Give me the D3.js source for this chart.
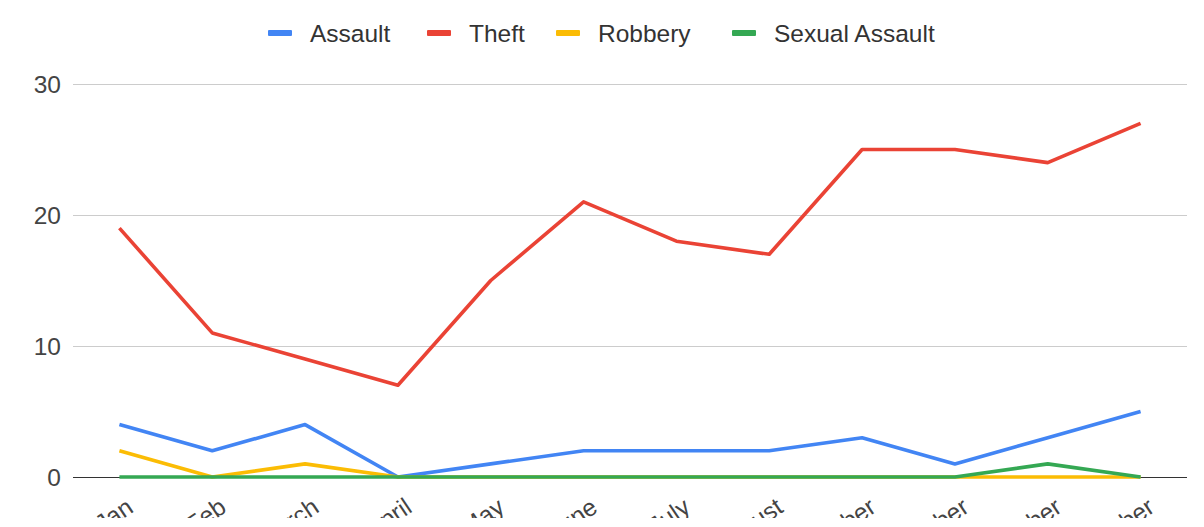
<!DOCTYPE html>
<html>
<head>
<meta charset="utf-8">
<script src="https://cdn.jsdelivr.net/npm/d3@7"></script>
<style>
  html, body { margin: 0; padding: 0; background: #fff; }
  svg { display: block; font-family: Arial, "Liberation Sans", sans-serif; }
</style>
</head>
<body>
<svg id="chart" width="1204" height="527"></svg>
<script>
// Monthly incident counts by crime type
const months = ["Jan", "Feb", "March", "April", "May", "June", "July", "August",
                "September", "October", "November", "December"];
const assault       = [4, 2, 4, 0, 1, 2, 2, 2, 3, 1, 3, 5];
const theft         = [19, 11, 9, 7, 15, 21, 18, 17, 25, 25, 24, 27];
const robbery       = [2, 0, 1, 0, 0, 0, 0, 0, 0, 0, 0, 0];
const sexualAssault = [0, 0, 0, 0, 0, 0, 0, 0, 0, 0, 1, 0];
const yTicks = [0, 10, 20, 30];

const seriesNames  = ["Assault", "Theft", "Robbery", "Sexual Assault"];
const seriesValues = [assault, theft, robbery, sexualAssault];
const colors       = ["#4285F4", "#EA4335", "#FBBC04", "#34A853"];

const svg = d3.select("#chart");
const plot = { left: 73, right: 1187, top: 84, bottom: 477 };

const x = d3.scalePoint().domain(months).range([plot.left, plot.right]).padding(0.5);
const y = d3.scaleLinear().domain([0, 30]).range([plot.bottom, plot.top]);

// Horizontal gridlines with value labels
const yAxis = d3.axisLeft(y).tickValues(yTicks).tickSize(-(plot.right - plot.left)).tickPadding(12);
const gy = svg.append("g").attr("transform", `translate(${plot.left},0)`).call(yAxis);
gy.select(".domain").remove();
gy.selectAll(".tick line").attr("stroke", "#cccccc").attr("stroke-width", 1)
  .filter(d => d === 0).attr("stroke", "#333333");
gy.selectAll(".tick text").attr("fill", "#444444").style("font-size", "24.5px")
  .attr("dy", "0.35em");

// Slanted month labels along the bottom edge
svg.append("clipPath").attr("id", "bottomClip")
  .append("rect").attr("x", 0).attr("y", 0).attr("width", 1204).attr("height", 518);
const xAxis = d3.axisBottom(x).tickSize(0).tickPadding(0);
const gx = svg.append("g").attr("clip-path", "url(#bottomClip)")
  .append("g").attr("transform", `translate(0,${plot.bottom})`).call(xAxis);
gx.select(".domain").remove();
gx.selectAll(".tick text")
  .attr("fill", "#444444").style("font-size", "24.5px")
  .attr("text-anchor", "end")
  .attr("x", 0).attr("y", 0).attr("dy", 0)
  .attr("transform", "translate(15,34) rotate(-34)");

// Series lines
const line = d3.line().x((d, i) => x(months[i])).y(d => y(d));
seriesValues.forEach((vals, k) => {
  svg.append("path")
    .datum(vals)
    .attr("fill", "none")
    .attr("stroke", colors[k])
    .attr("stroke-width", 3.6)
    .attr("stroke-linejoin", "round")
    .attr("d", line);
});

// Legend
const legendX = [268, 427, 556, 732];
const legend = svg.append("g");
seriesNames.forEach((name, k) => {
  const g = legend.append("g").attr("transform", `translate(${legendX[k]},33)`);
  g.append("rect").attr("x", 0).attr("y", -3).attr("width", 24).attr("height", 6)
    .attr("rx", 1).attr("fill", colors[k]);
  g.append("text").attr("x", 42).attr("y", 0).attr("dy", "0.35em")
    .attr("fill", "#333333").style("font-size", "24.5px").text(name);
});
</script>
</body>
</html>
